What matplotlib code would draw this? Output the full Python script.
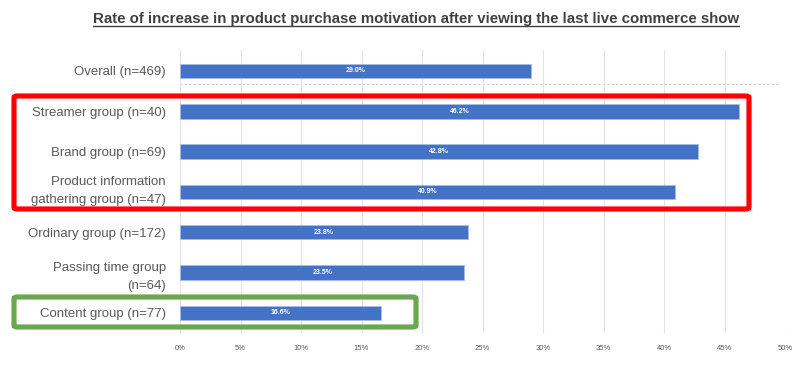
import matplotlib
matplotlib.use("Agg")
import matplotlib.pyplot as plt
import matplotlib.transforms as mtransforms
from matplotlib.patches import FancyBboxPatch
from matplotlib.lines import Line2D
from matplotlib import font_manager

categories = ["Overall (n=469)", "Streamer group (n=40)", "Brand group (n=69)",
              "Product information\ngathering group (n=47)", "Ordinary group (n=172)",
              "Passing time group\n(n=64)", "Content group (n=77)"]
values = [29.0, 46.2, 42.8, 40.9, 23.8, 23.5, 16.6]
xticks = [0, 5, 10, 15, 20, 25, 30, 35, 40, 45, 50]
title = "Rate of increase in product purchase motivation after viewing the last live commerce show"

names = {f.name for f in font_manager.fontManager.ttflist}
narrow = "Liberation Sans Narrow" if "Liberation Sans Narrow" in names else "Liberation Sans"

W, H = 807, 376
fig = plt.figure(figsize=(W / 100, H / 100), dpi=100)
ax = fig.add_axes([180 / W, 1 - 333 / H, 605 / W, (333 - 50) / H])

y = list(range(len(categories)))
ax.barh(y, values, height=0.36, color="#4472C4", edgecolor="#a9bde3", linewidth=0.6, zorder=3)
for yi, v in zip(y, values):
    ax.text(v / 2, yi, f"{v:.1f}%", ha="center", va="center", color="white",
            fontsize=5, family=narrow, fontweight="bold", zorder=4)

ax.set_xlim(0, 50)
ax.set_ylim(6.5, -0.52)
ax.set_xticks(xticks)
ax.set_xticklabels([f"{t}%" for t in xticks], fontsize=5.5, color="#595959", family=narrow)
ax.set_yticks(y)
ax.set_yticklabels(categories, fontsize=9.5, color="#595959", family="Liberation Sans",
                   linespacing=1.65)
ax.tick_params(axis="x", length=0, pad=9)
ax.tick_params(axis="y", length=0, pad=10)
# the "Product information" label sits a little higher in the reference
lbl = ax.get_yticklabels()[3]
lbl.set_transform(lbl.get_transform() + mtransforms.ScaledTranslation(0, 5 / 100, fig.dpi_scale_trans))
ax.grid(axis="x", color="#e3e3e3", linewidth=0.8, zorder=0)
for s in ax.spines.values():
    s.set_visible(False)
ax.axhline(0.33, xmax=0.99, color="#d0d0d0", linestyle=(0, (2, 2)), linewidth=0.8, zorder=1)

# title with underline
t = fig.text(416 / W, 1 - 19 / H, title, ha="center", va="center", fontsize=10.85,
             fontweight="bold", color="#404040", family=narrow)
fig.canvas.draw()
bb = t.get_window_extent()
fig.add_artist(Line2D([bb.x0 / W, bb.x1 / W], [(bb.y0 + 0.5) / H, (bb.y0 + 0.5) / H],
                      color="#404040", linewidth=1.0, transform=fig.transFigure))

def box(x0, y0, x1, y1, color):
    p = FancyBboxPatch((x0 / W, 1 - y1 / H), (x1 - x0) / W, (y1 - y0) / H,
                       boxstyle="round,pad=0,rounding_size=0.004", transform=fig.transFigure,
                       fill=False, edgecolor=color, linewidth=3.7, zorder=10)
    fig.add_artist(p)

box(14, 96, 749, 209, "#ff0000")
box(14, 297, 416, 327, "#6aa84f")

fig.savefig("out.png", dpi=100)
